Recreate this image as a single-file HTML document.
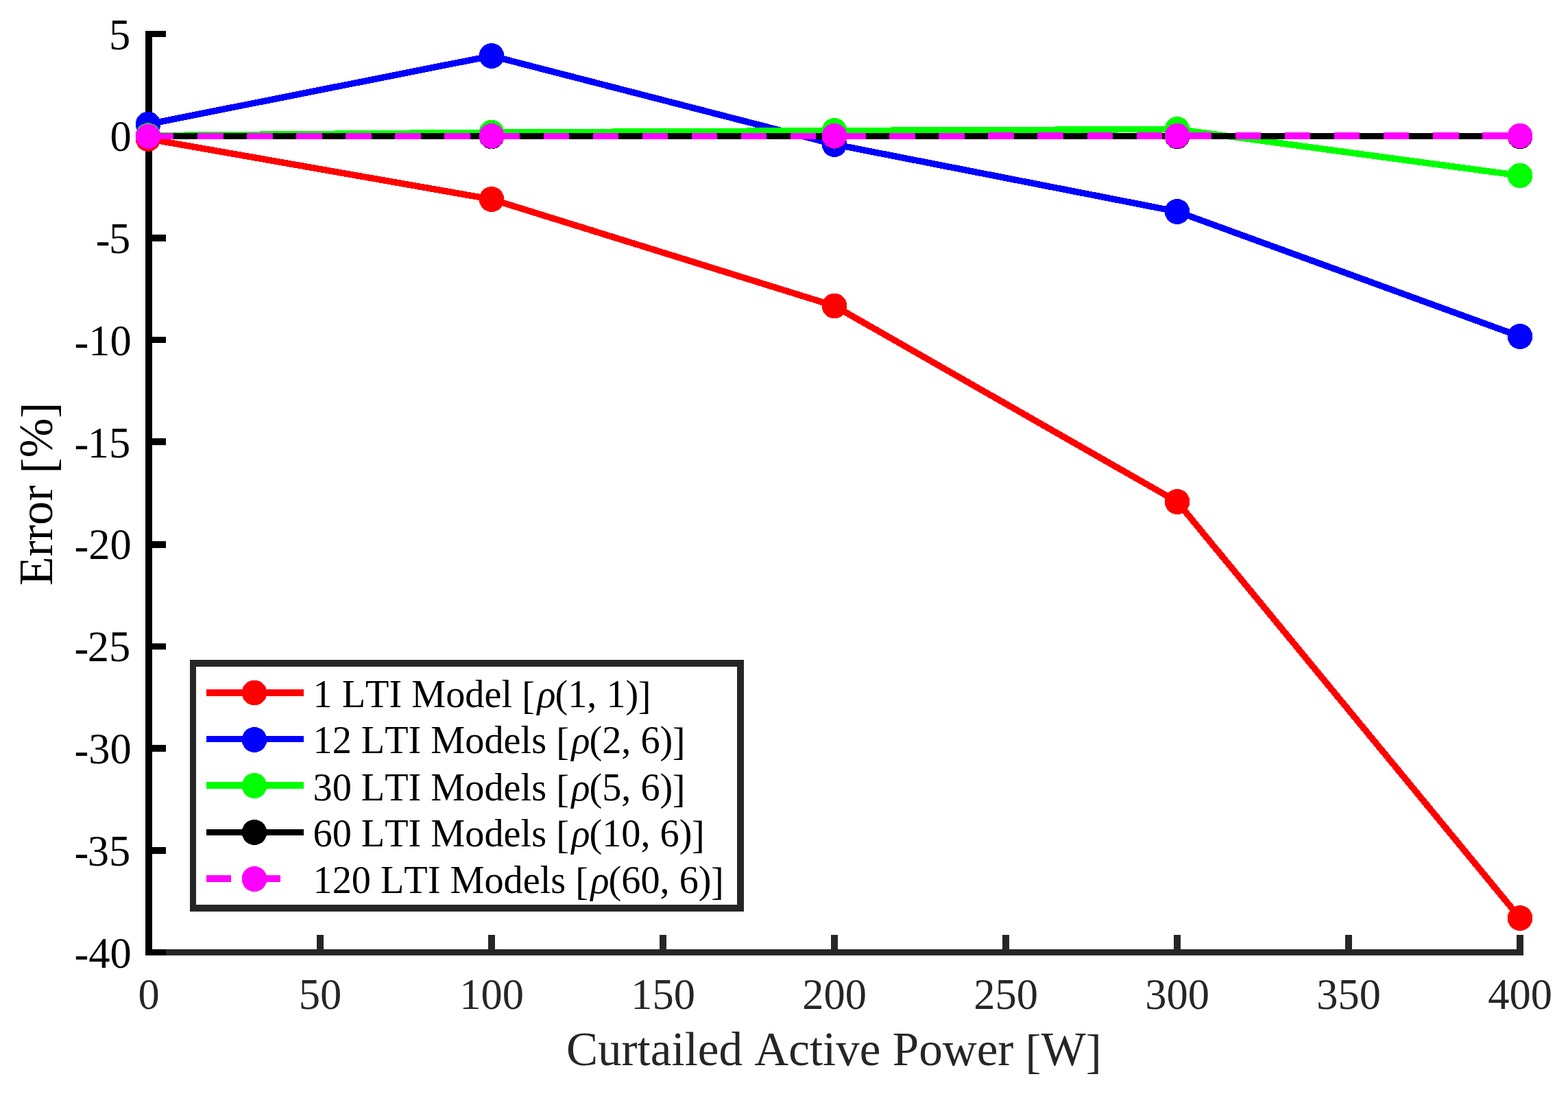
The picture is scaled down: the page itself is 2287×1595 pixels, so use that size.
<!DOCTYPE html>
<html lang="en">
<head>
<meta charset="utf-8">
<title>Error vs. Curtailed Active Power</title>
<style>
html,body{margin:0;padding:0;background:#fff;}
body{width:2287px;height:1595px;overflow:hidden;}
svg{display:block;}
text{font-family:"Liberation Serif","Times New Roman",Times,serif;font-kerning:none;font-variant-ligatures:none;white-space:pre;}
.g{shape-rendering:crispEdges;}
.tk{font-size:62.5px;}
.lb{font-size:69.1px;}
.lg{font-size:56.25px;fill:#000;}
.it{font-style:italic;}
</style>
</head>
<body>
<svg width="2287" height="1595" viewBox="0 0 2287 1595">
<rect width="2287" height="1595" fill="#ffffff"/>
<g class="g">
<rect x="212" y="1384" width="2010" height="9" fill="#262626"/>
<rect x="212" y="1363" width="10" height="21" fill="#262626"/>
<rect x="462" y="1363" width="10" height="21" fill="#262626"/>
<rect x="712" y="1363" width="10" height="21" fill="#262626"/>
<rect x="962" y="1363" width="10" height="21" fill="#262626"/>
<rect x="1212" y="1363" width="10" height="21" fill="#262626"/>
<rect x="1462" y="1363" width="10" height="21" fill="#262626"/>
<rect x="1712" y="1363" width="10" height="21" fill="#262626"/>
<rect x="1962" y="1363" width="10" height="21" fill="#262626"/>
<rect x="2212" y="1363" width="10" height="21" fill="#262626"/>
<rect x="212" y="45" width="10" height="1348" fill="#000"/>
<rect x="222" y="45" width="20" height="9" fill="#000"/>
<rect x="222" y="194" width="20" height="9" fill="#000"/>
<rect x="222" y="342" width="20" height="10" fill="#000"/>
<rect x="222" y="491" width="20" height="9" fill="#000"/>
<rect x="222" y="639" width="20" height="10" fill="#000"/>
<rect x="222" y="789" width="20" height="10" fill="#000"/>
<rect x="222" y="938" width="20" height="9" fill="#000"/>
<rect x="222" y="1086" width="20" height="10" fill="#000"/>
<rect x="222" y="1235" width="20" height="10" fill="#000"/>
<rect x="222" y="1384" width="20" height="9" fill="#000"/>
</g>
<g class="tk" fill="#262626" text-anchor="middle">
<text x="217" y="1471">0</text>
<text x="467" y="1471">50</text>
<text x="717" y="1471">100</text>
<text x="967" y="1471">150</text>
<text x="1217" y="1471">200</text>
<text x="1467" y="1471">250</text>
<text x="1717" y="1471">300</text>
<text x="1967" y="1471">350</text>
<text x="2217" y="1471">400</text>
</g>
<g class="tk" fill="#000" text-anchor="end">
<text x="190.3" y="71.5">5</text>
<text x="191.7" y="220.278">0</text>
<text><tspan x="160.6" y="370.856">-</tspan><tspan x="190.3" y="369.056">5</tspan></text>
<text><tspan x="129.4" y="519.633">-</tspan><tspan x="191.7" y="517.833">10</tspan></text>
<text><tspan x="129.4" y="668.411">-</tspan><tspan x="190.3" y="666.611">15</tspan></text>
<text><tspan x="129.4" y="817.189">-</tspan><tspan x="191.7" y="815.389">20</tspan></text>
<text><tspan x="129.4" y="965.967">-</tspan><tspan x="190.3" y="964.167">25</tspan></text>
<text><tspan x="129.4" y="1114.744">-</tspan><tspan x="191.7" y="1112.944">30</tspan></text>
<text><tspan x="129.4" y="1263.522">-</tspan><tspan x="190.3" y="1261.722">35</tspan></text>
<text><tspan x="129.4" y="1412.3">-</tspan><tspan x="191.7" y="1410.5">40</tspan></text>
</g>
<text class="lb" fill="#262626" text-anchor="middle" x="1216.4" y="1553" xml:space="preserve">Curtailed Active Power <tspan dy="3.5">[</tspan><tspan dy="-3.5">W</tspan><tspan dy="3.5">]</tspan></text>
<text class="lb" style="font-size:69.25px" fill="#000" text-anchor="middle" transform="translate(76 720.2) rotate(-90)" xml:space="preserve">Error <tspan dy="3.5">[</tspan><tspan dy="-3.5">%</tspan><tspan dy="3.5">]</tspan></text>
<g class="g" fill="none" stroke-width="9.375" stroke-linejoin="round">
<polyline points="216,202.444 717,290.52 1217,445.993 1717,731.497 2217,1338.511" stroke="#ff0000"/>
<circle cx="216" cy="202.444" r="18.4" fill="#ff0000" stroke="none"/>
<circle cx="717" cy="290.52" r="18.4" fill="#ff0000" stroke="none"/>
<circle cx="1217" cy="445.993" r="18.4" fill="#ff0000" stroke="none"/>
<circle cx="1717" cy="731.497" r="18.4" fill="#ff0000" stroke="none"/>
<circle cx="2217" cy="1338.511" r="18.4" fill="#ff0000" stroke="none"/>
<polyline points="216,181.02 717,81.487 1217,210.478 1717,308.492 2217,490.477" stroke="#0000ff"/>
<circle cx="216" cy="181.02" r="18.4" fill="#0000ff" stroke="none"/>
<circle cx="717" cy="81.487" r="18.4" fill="#0000ff" stroke="none"/>
<circle cx="1217" cy="210.478" r="18.4" fill="#0000ff" stroke="none"/>
<circle cx="1717" cy="308.492" r="18.4" fill="#0000ff" stroke="none"/>
<circle cx="2217" cy="490.477" r="18.4" fill="#0000ff" stroke="none"/>
<polyline points="216,197.683 717,193.1 1217,190.541 1717,188.458 2217,256.004" stroke="#00ff00"/>
<circle cx="216" cy="197.683" r="18.4" fill="#00ff00" stroke="none"/>
<circle cx="717" cy="193.1" r="18.4" fill="#00ff00" stroke="none"/>
<circle cx="1217" cy="190.541" r="18.4" fill="#00ff00" stroke="none"/>
<circle cx="1717" cy="188.458" r="18.4" fill="#00ff00" stroke="none"/>
<circle cx="2217" cy="256.004" r="18.4" fill="#00ff00" stroke="none"/>
<polyline points="216,198.278 717,198.278 1217,198.278 1717,198.278 2217,198.278" stroke="#000000"/>
<circle cx="216" cy="198.778" r="18.25" fill="#000000" stroke="none"/>
<circle cx="717" cy="198.878" r="18.4" fill="#000000" stroke="none"/>
<circle cx="1217" cy="198.878" r="18.4" fill="#000000" stroke="none"/>
<circle cx="1717" cy="198.878" r="18.4" fill="#000000" stroke="none"/>
<circle cx="2217" cy="198.878" r="18.4" fill="#000000" stroke="none"/>
<polyline points="216,198.278 717,198.278 1217,198.278 1717,198.099 2217,198.099" stroke="#ff00ff" stroke-dasharray="37.45 34.63"/>
<circle cx="216" cy="198.778" r="18.25" fill="#ff00ff" stroke="none"/>
<circle cx="717" cy="198.278" r="18.4" fill="#ff00ff" stroke="none"/>
<circle cx="1217" cy="198.278" r="18.4" fill="#ff00ff" stroke="none"/>
<circle cx="1717" cy="198.099" r="18.4" fill="#ff00ff" stroke="none"/>
<circle cx="2217" cy="198.099" r="18.4" fill="#ff00ff" stroke="none"/>
</g>
<g class="g">
<rect x="277" y="962" width="808" height="367" fill="#fff"/>
<path fill="#262626" fill-rule="evenodd" d="M277 962H1085V1329H277ZM286 972H1075V1319H286Z"/>
<rect x="301" y="1005" width="142" height="10" fill="#ff0000"/>
<circle cx="371" cy="1010" r="18.4" fill="#ff0000"/>
<rect x="301" y="1073" width="142" height="9" fill="#0000ff"/>
<circle cx="371" cy="1078.5" r="18.4" fill="#0000ff"/>
<rect x="301" y="1140" width="142" height="10" fill="#00ff00"/>
<circle cx="371" cy="1145.5" r="18.4" fill="#00ff00"/>
<rect x="301" y="1209" width="142" height="9" fill="#000000"/>
<circle cx="371" cy="1213.5" r="18.4" fill="#000000"/>
<rect x="301" y="1276" width="36" height="10" fill="#ff00ff"/>
<rect x="373" y="1276" width="36" height="10" fill="#ff00ff"/>
<circle cx="371" cy="1281.5" r="18.4" fill="#ff00ff"/>
</g>
<g class="lg">
<text x="456.5" y="1030.9" xml:space="preserve">1 LTI Model <tspan dy="2">[</tspan><tspan class="it" dx="3.6" dy="-2">ρ</tspan><tspan dx="-1">(1, 1)</tspan><tspan dx="-0.5" dy="2">]</tspan></text>
<text x="456.5" y="1098.3" xml:space="preserve">12 LTI Models <tspan dy="2">[</tspan><tspan class="it" dx="3.6" dy="-2">ρ</tspan><tspan dx="-1">(2, 6)</tspan><tspan dx="-0.5" dy="2">]</tspan></text>
<text x="456.5" y="1166.6" xml:space="preserve">30 LTI Models <tspan dy="2">[</tspan><tspan class="it" dx="3.6" dy="-2">ρ</tspan><tspan dx="-1">(5, 6)</tspan><tspan dx="-0.5" dy="2">]</tspan></text>
<text x="456.5" y="1233.8" xml:space="preserve">60 LTI Models <tspan dy="2">[</tspan><tspan class="it" dx="3.6" dy="-2">ρ</tspan><tspan dx="-1">(10, 6)</tspan><tspan dx="-0.5" dy="2">]</tspan></text>
<text x="456.5" y="1301.9" xml:space="preserve">120 LTI Models <tspan dy="2">[</tspan><tspan class="it" dx="3.6" dy="-2">ρ</tspan><tspan dx="-1">(60, 6)</tspan><tspan dx="-0.5" dy="2">]</tspan></text>
</g>
</svg>
</body>
</html>
